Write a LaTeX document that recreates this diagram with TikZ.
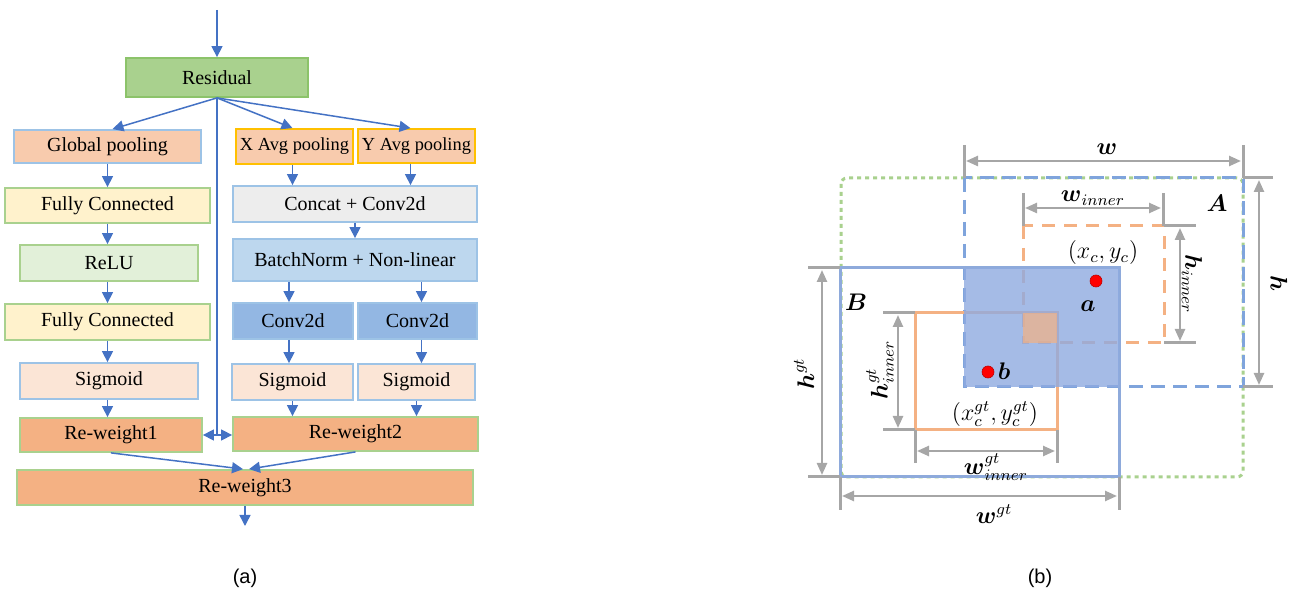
\documentclass[tikz,border=0pt]{standalone}
\usepackage{amsmath,amssymb}
\usepackage{fontspec}
\setmainfont{Liberation Serif}
\newfontfamily\captionsans{Liberation Sans}
\usetikzlibrary{arrows.meta,calc}

\definecolor{flowblue}{HTML}{4472C4}
\definecolor{resfill}{HTML}{A9D18E}
\definecolor{resdraw}{HTML}{8CC36A}
\definecolor{peach}{HTML}{F8CBAD}
\definecolor{lightpeach}{HTML}{FBE5D6}
\definecolor{gold}{HTML}{FFC000}
\definecolor{paleyellow}{HTML}{FFF2CC}
\definecolor{palegreen}{HTML}{E2F0D9}
\definecolor{greenedge}{HTML}{A9D18E}
\definecolor{paleblue}{HTML}{BDD7EE}
\definecolor{blueedge}{HTML}{9DC3E6}
\definecolor{midblue}{HTML}{93B7E3}
\definecolor{palegray}{HTML}{EDEDED}
\definecolor{orangebox}{HTML}{F4B183}
\definecolor{dimgray}{HTML}{A6A6A6}
\definecolor{boxAblue}{HTML}{7FA4DC}
\definecolor{boxBblue}{HTML}{8EAADB}
\definecolor{overlapblue}{HTML}{8FAAE0}
\definecolor{innerorange}{HTML}{F4B183}
\definecolor{uniongreen}{HTML}{A9D18E}
\definecolor{dotred}{HTML}{FF0000}
\definecolor{dotedge}{HTML}{C00000}

\tikzset{
  blk/.style={draw, line width=0.9pt, inner sep=0pt, font=\fontsize{10}{12}\selectfont},
  poolblk/.style={blk, font=\fontsize{9.2}{11}\selectfont},
  flow/.style={draw=flowblue, line width=0.75pt, -{Triangle[width=5.5pt,length=5.5pt]}},
  flowline/.style={draw=flowblue, line width=0.75pt},
  dimtick/.style={draw=dimgray, line width=1.5pt},
  dimarrow/.style={draw=dimgray, line width=1.2pt, {Triangle[width=5pt,length=6pt]}-{Triangle[width=5pt,length=6pt]}},
  mathlbl/.style={inner sep=0pt, font=\fontsize{11.5}{13}\selectfont},
  sublbl/.style={inner sep=0pt, font=\captionsans\fontsize{10}{12}\selectfont},
  reddot/.style={circle, fill=dotred, draw=dotedge, line width=0.3pt, minimum size=6pt, inner sep=0pt},
}

\begin{document}
\begin{tikzpicture}[x=0.5pt,y=-0.5pt]
\useasboundingbox (0,0) rectangle (1298,604);

% ---------- (a) attention block ----------
\node[blk, fill=resfill, draw=resdraw, minimum width=91pt, minimum height=19.5pt] (res) at (217,77.5) {Residual};
\node[blk, fill=peach, draw=blueedge, minimum width=93.5pt, minimum height=16.5pt] (gp) at (107.5,146.5) {Global pooling};
\node[poolblk, fill=peach, draw=gold, minimum width=58.5pt, minimum height=17.5pt] (xa) at (294.5,146.5) {X Avg pooling};
\node[poolblk, fill=peach, draw=gold, minimum width=58.5pt, minimum height=17pt] (ya) at (416.5,146) {Y Avg pooling};
\node[blk, fill=paleyellow, draw=greenedge, minimum width=102.5pt, minimum height=17.5pt] (fc1) at (107.5,205.5) {Fully Connected};
\node[blk, fill=palegray, draw=blueedge, minimum width=122pt, minimum height=18pt] (cc) at (355,204) {Concat + Conv2d};
\node[blk, fill=palegreen, draw=greenedge, minimum width=89pt, minimum height=18pt] (relu) at (109,263) {ReLU};
\node[blk, fill=paleblue, draw=blueedge, minimum width=122pt, minimum height=21pt] (bn) at (355,260) {BatchNorm + Non-linear};
\node[blk, fill=paleyellow, draw=greenedge, minimum width=102.5pt, minimum height=18pt] (fc2) at (107.5,322) {Fully Connected};
\node[blk, fill=midblue, draw=blueedge, minimum width=60pt, minimum height=18pt] (cvl) at (293,321) {Conv2d};
\node[blk, fill=midblue, draw=blueedge, minimum width=59.5pt, minimum height=18pt] (cvr) at (417.5,321) {Conv2d};
\node[blk, fill=lightpeach, draw=blueedge, minimum width=89pt, minimum height=18pt] (sg1) at (109,381) {Sigmoid};
\node[blk, fill=lightpeach, draw=blueedge, minimum width=60.5pt, minimum height=18pt] (sgm) at (292.5,382) {Sigmoid};
\node[blk, fill=lightpeach, draw=blueedge, minimum width=58.5pt, minimum height=18pt] (sgr) at (416.5,382) {Sigmoid};
\node[blk, fill=orangebox, draw=greenedge, minimum width=91pt, minimum height=17pt] (rw1) at (111,435) {Re-weight1};
\node[blk, fill=orangebox, draw=greenedge, minimum width=122.5pt, minimum height=17pt] (rw2) at (355.5,434) {Re-weight2};
\node[blk, fill=orangebox, draw=greenedge, minimum width=228pt, minimum height=17.5pt] (rw3) at (245,487.5) {Re-weight3};

\coordinate (in) at (217,10);
\coordinate (out) at (245,526);

\draw[flow] (in) -- (res.north);
\draw[flow] (res.south) -- ($(gp.north)+(5,0)$);
\draw[flow] (res.south) -- ($(xa.north)+(-2,0)$);
\draw[flow] (res.south) -- ($(ya.north)+(-6,0)$);
\draw[flowline] (res.south) -- (res.south |- rw1.east) coordinate (skip);
\draw[flow] (skip) -- (skip -| rw1.east);
\draw[flow] (skip) -- (skip -| rw2.west);

\draw[flow] (gp.south) -- (gp.south |- fc1.north);
\draw[flow] (gp.south |- fc1.south) -- (gp.south |- relu.north);
\draw[flow] (gp.south |- relu.south) -- (gp.south |- fc2.north);
\draw[flow] (gp.south |- fc2.south) -- (gp.south |- sg1.north);
\draw[flow] (gp.south |- sg1.south) -- (gp.south |- rw1.north);

\draw[flow] ($(xa.south)+(-2,0)$) -- ($(xa.south |- cc.north)+(-2,0)$);
\draw[flow] ($(ya.south)+(-6,0)$) -- ($(ya.south |- cc.north)+(-6,0)$);
\draw[flow] (cc.south) -- (bn.north);
\draw[flow] ($(cvl.north |- bn.south)+(-4,0)$) -- ($(cvl.north)+(-4,0)$);
\draw[flow] ($(cvr.north |- bn.south)+(4,0)$) -- ($(cvr.north)+(4,0)$);
\draw[flow] ($(cvl.south)+(-4,0)$) -- ($(cvl.south |- sgm.north)+(-4,0)$);
\draw[flow] ($(cvr.south)+(4,0)$) -- ($(cvr.south |- sgr.north)+(4,0)$);
\draw[flow] (sgm.south) -- (sgm.south |- rw2.north);
\draw[flow] (sgr.south) -- (sgr.south |- rw2.north);

\draw[flow] (rw1.south) -- ($(rw3.north)+(-2,0)$);
\draw[flow] (rw2.south) -- ($(rw3.north)+(4,0)$);
\draw[flow] (rw3.south) -- (out);

\node[sublbl] (capa) at (245,578) {(a)};

% ---------- (b) inner-box geometry ----------
% union of A and B
\draw[uniongreen, line width=1.5pt, dash pattern=on 2pt off 2pt, rounded corners=3pt]
  (841,178) rectangle (1243,477);
% box A (dashed) and box B (solid)
\draw[boxAblue, line width=1.5pt, dash pattern=on 7pt off 4pt] (964,178) rectangle (1243,387);
\draw[boxBblue, line width=1.5pt] (840,268) rectangle (1119,477);
% inner boxes
\draw[innerorange, line width=1.5pt, dash pattern=on 6.5pt off 4.5pt] (1023,226) rectangle (1164,343);
\draw[innerorange, line width=1.5pt] (915,313) rectangle (1057,430);
% overlaps
\fill[overlapblue, fill opacity=0.8] (964,268) rectangle (1119,387);
\fill[innerorange, fill opacity=0.7] (1023,313) rectangle (1057,343);

% dimension w
\draw[dimtick] (964,145) -- (964,178);
\draw[dimtick] (1243,145) -- (1243,178);
\draw[dimarrow] (966,161) -- (1241,161);
% dimension w_inner
\draw[dimtick] (1023,193) -- (1023,226);
\draw[dimtick] (1163,193) -- (1163,226);
\draw[dimarrow] (1025,208) -- (1161,208);
% dimension h_inner
\draw[dimtick] (1164,226) -- (1196,226);
\draw[dimtick] (1164,343) -- (1196,343);
\draw[dimarrow] (1180,228) -- (1180,341);
% dimension h
\draw[dimtick] (1243,178) -- (1273,178);
\draw[dimtick] (1243,387) -- (1273,387);
\draw[dimarrow] (1259,180) -- (1259,385);
% dimension h^gt
\draw[dimtick] (808,268) -- (840,268);
\draw[dimtick] (808,477) -- (840,477);
\draw[dimarrow] (822,270) -- (822,475);
% dimension h^gt_inner
\draw[dimtick] (883,313) -- (915,313);
\draw[dimtick] (883,430) -- (915,430);
\draw[dimarrow] (898,315) -- (898,428);
% dimension w^gt_inner
\draw[dimtick] (915,430) -- (915,463);
\draw[dimtick] (1057,430) -- (1057,463);
\draw[dimarrow] (917,451) -- (1055,451);
% dimension w^gt
\draw[dimtick] (840,477) -- (840,510);
\draw[dimtick] (1119,477) -- (1119,510);
\draw[dimarrow] (842,496) -- (1117,496);

% centres
\node[reddot] (ca) at (1096,281) {};
\node[reddot] (cb) at (988,372) {};

% labels
\node[mathlbl] (lw) at (1107,149) {$\boldsymbol{w}$};
\node[mathlbl] (lwin) at (1093,198) {$\boldsymbol{w}_{inner}$};
\node[mathlbl] (lA) at (1217,203) {$\boldsymbol{A}$};
\node[mathlbl, rotate=-90] (lhin) at (1192,284) {$\boldsymbol{h}_{inner}$};
\node[mathlbl, rotate=-90] (lh) at (1279,284) {$\boldsymbol{h}$};
\node[mathlbl] (lxc) at (1103,253) {$(x_c,y_c)$};
\node[mathlbl] (la) at (1088,306) {$\boldsymbol{a}$};
\node[mathlbl] (lB) at (856,302) {$\boldsymbol{B}$};
\node[mathlbl] (lb) at (1004,371) {$\boldsymbol{b}$};
\node[mathlbl, rotate=90] (lhgt) at (804,374) {$\boldsymbol{h}^{gt}$};
\node[mathlbl, rotate=90] (lhgtin) at (880,370) {$\boldsymbol{h}^{gt}_{inner}$};
\node[mathlbl] (lxgt) at (995,414) {$(x^{gt}_c,y^{gt}_c)$};
\node[mathlbl] (lwgtin) at (996,467) {$\boldsymbol{w}^{gt}_{inner}$};
\node[mathlbl] (lwgt) at (994,514) {$\boldsymbol{w}^{gt}$};

\node[sublbl] (capb) at (1040,578) {(b)};
\end{tikzpicture}
\end{document}
